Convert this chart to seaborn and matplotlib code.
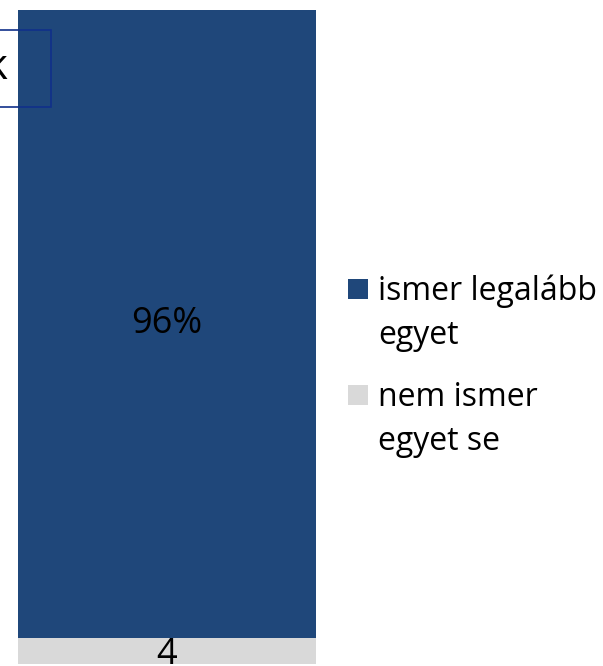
import pandas as pd
import seaborn as sns
import matplotlib.pyplot as plt
from matplotlib.patches import Rectangle

# data
categories = ["ismer legalább\negyet", "nem ismer\negyet se"]
values = [96, 4]
colors = ["#1F477A", "#D9D9D9"]
bar_labels = ["96%", "4"]

sns.set_style("white")
plt.rcParams['font.family'] = ['Open Sans', 'DejaVu Sans']

W, H = 603, 666
fig = plt.figure(figsize=(W / 100, H / 100), dpi=100)
# bar runs from x=18 to 316 px, top at y=10 px
ax = fig.add_axes([18 / W, 0, (316 - 18) / W, (666 - 10) / H])

df = pd.DataFrame({"grp": ["a"], "total": [sum(values)], "low": [values[1]]})
sns.barplot(data=df, x="grp", y="total", color=colors[0], width=1.0,
            saturation=1, linewidth=0, ax=ax)
sns.barplot(data=df, x="grp", y="low", color=colors[1], width=1.0,
            saturation=1, linewidth=0, ax=ax)
ax.set_xlim(-0.5, 0.5)
ax.set_ylim(-0.3, 100)
ax.set_axis_off()

# segment labels
ax.text(0, values[1] + values[0] / 2, bar_labels[0], ha="center", va="center",
        fontsize=26, color="black")
# the small label sits low and is clipped by the bottom edge, as in the original
ax.annotate(bar_labels[1], (0, values[1] / 2), xytext=(0, -4),
            textcoords="offset pixels", ha="center", va="center",
            fontsize=26, color="black", annotation_clip=False)

# hand-made legend: square aligned with first line of each label
entry_top = [279, 385]   # px from top
for cat, col, top in zip(categories, colors, entry_top):
    fig.patches.append(Rectangle((348 / W, 1 - (top + 20) / H), 20 / W, 20 / H,
                                 transform=fig.transFigure, facecolor=col,
                                 edgecolor="none"))
    for i, line in enumerate(cat.split("\n")):
        fig.text(378 / W, 1 - (top + 21 + 44 * i) / H, line, ha="left",
                 va="baseline", fontsize=23, color="black")

# title box cut off at the left edge
fig.patches.append(Rectangle((-40 / W, 1 - 107 / H), 91 / W, 77 / H,
                             transform=fig.transFigure, fill=False,
                             edgecolor="#10308A", lw=1.2, zorder=5))
fig.text(7 / W, 1 - 68 / H, "k", ha="right", va="center", fontsize=30,
         color="black")

fig.savefig("out.png", dpi=100)
